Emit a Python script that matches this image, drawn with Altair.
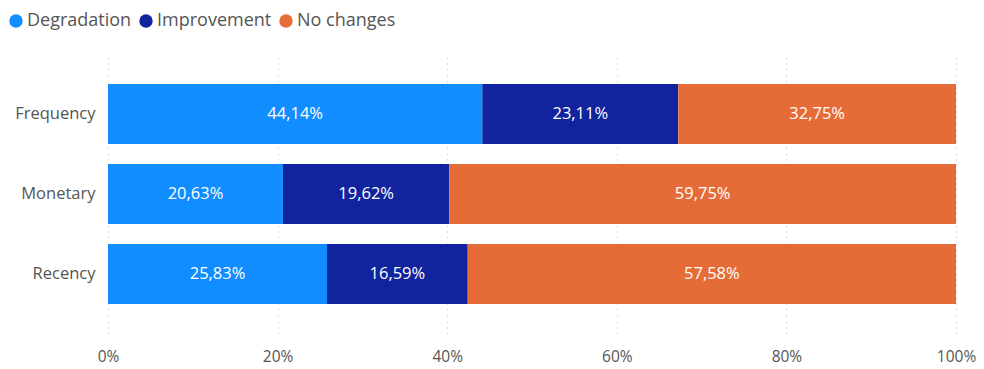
import altair as alt
import pandas as pd

categories = ["Frequency", "Monetary", "Recency"]
series = ["Degradation", "Improvement", "No changes"]
degradation = [44.14, 20.63, 25.83]
improvement = [23.11, 19.62, 16.59]
no_changes = [32.75, 59.75, 57.58]
colors = ["#118DFF", "#12239E", "#E66C37"]
x_ticks = [0, 20, 40, 60, 80, 100]

rows = []
for i, c in enumerate(categories):
    for j, (s, vals) in enumerate(zip(series, [degradation, improvement, no_changes])):
        rows.append({"category": c, "series": s, "order": j, "value": vals[i]})
df = pd.DataFrame(rows)

FONT = "Open Sans"

base = alt.Chart(df).transform_stack(
    stack="value", groupby=["category"], as_=["x0", "x1"],
    sort=[alt.SortField("order", "ascending")]
).transform_calculate(
    mid="(datum.x0 + datum.x1) / 2",
    label="replace(format(datum.value, '.2f'), '.', ',') + '%'"
)

y = alt.Y("category:N", sort=categories, title=None,
          scale=alt.Scale(paddingInner=0.25, paddingOuter=0.375),
          axis=alt.Axis(domain=False, ticks=False, labelFontSize=16.5, labelColor="#555555",
                        labelFont=FONT, labelPadding=13, grid=False))

bars = base.mark_bar().encode(
    x=alt.X("x0:Q", title=None, scale=alt.Scale(domain=[0, 100], nice=False),
            axis=alt.Axis(values=x_ticks, labelExpr="datum.value + '%'", domain=False, ticks=False,
                          labelFlush=False, labelAlign="center",
                          labelFontSize=15.5, labelColor="#555555", labelFont=FONT, labelPadding=15,
                          grid=True, gridDash=[1, 5], gridColor="#BBBBBB", gridWidth=1)),
    x2="x1:Q",
    y=y,
    color=alt.Color("series:N", scale=alt.Scale(domain=series, range=colors),
                    legend=alt.Legend(title=None, orient="none", direction="horizontal",
                                      legendX=-101, legendY=-42, symbolType="circle",
                                      symbolSize=180, symbolStrokeWidth=0, labelFontSize=18,
                                      labelFont=FONT, labelColor="#555555", labelOffset=2,
                                      columnPadding=5, labelLimit=300)),
)

text = base.mark_text(color="white", fontSize=16.5, font=FONT).encode(
    x=alt.X("mid:Q"),
    y=alt.Y("category:N", sort=categories),
    text="label:N",
)

chart = (bars + text).properties(
    width=848, height=280,
    autosize=alt.AutoSizeParams(type="none"),
    padding={"left": 100, "top": 46, "right": 20, "bottom": 35},
).configure_view(stroke=None)

chart.save("out.html", embed_options={"renderer": "svg", "actions": False})
